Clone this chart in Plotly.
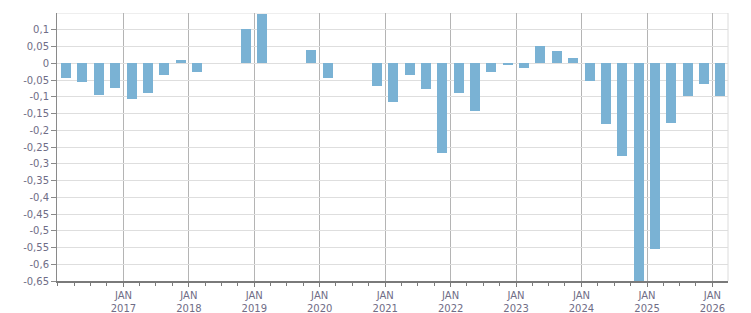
import plotly.graph_objects as go

quarters = [
    "2016-01-01", "2016-04-01", "2016-07-01", "2016-10-01",
    "2017-01-01", "2017-04-01", "2017-07-01", "2017-10-01",
    "2018-01-01", "2018-04-01", "2018-07-01", "2018-10-01",
    "2019-01-01", "2019-04-01", "2019-07-01", "2019-10-01",
    "2020-01-01", "2020-04-01", "2020-07-01", "2020-10-01",
    "2021-01-01", "2021-04-01", "2021-07-01", "2021-10-01",
    "2022-01-01", "2022-04-01", "2022-07-01", "2022-10-01",
    "2023-01-01", "2023-04-01", "2023-07-01", "2023-10-01",
    "2024-01-01", "2024-04-01", "2024-07-01", "2024-10-01",
    "2025-01-01", "2025-04-01", "2025-07-01", "2025-10-01",
    "2026-01-01",
]
values = [
    -0.044, -0.057, -0.096, -0.075,
    -0.108, -0.090, -0.036, 0.009,
    -0.027, None, None, 0.102,
    0.147, None, None, 0.039,
    -0.045, None, None, -0.069,
    -0.117, -0.036, -0.078, -0.269,
    -0.090, -0.144, -0.027, -0.006,
    -0.015, 0.051, 0.036, 0.015,
    -0.054, -0.180, -0.278, -0.68,
    -0.554, -0.177, -0.099, -0.063,
    -0.099,
]

year_ticks = ["2017-01-01", "2018-01-01", "2019-01-01", "2020-01-01", "2021-01-01",
              "2022-01-01", "2023-01-01", "2024-01-01", "2025-01-01", "2026-01-01"]
year_labels = ["JAN<br>2017", "JAN<br>2018", "JAN<br>2019", "JAN<br>2020", "JAN<br>2021",
               "JAN<br>2022", "JAN<br>2023", "JAN<br>2024", "JAN<br>2025", "JAN<br>2026"]

y_tickvals = [0.1, 0.05, 0, -0.05, -0.1, -0.15, -0.2, -0.25, -0.3, -0.35, -0.4,
              -0.45, -0.5, -0.55, -0.6, -0.65]
y_ticktext = ["0,1", "0,05", "0", "-0,05", "-0,1", "-0,15", "-0,2", "-0,25", "-0,3",
              "-0,35", "-0,4", "-0,45", "-0,5", "-0,55", "-0,6", "-0,65"]

text_color = "#6f6d86"
font = dict(family="DejaVu Sans", size=10, color=text_color)

fig = go.Figure()
fig.add_trace(go.Bar(
    x=quarters, y=values,
    xperiod="M3", xperiodalignment="middle",
    width=56 * 86400000,
    marker=dict(color="#7ab2d4", line=dict(width=0)),
    hoverinfo="x+y",
))

fig.update_layout(
    width=751, height=313,
    margin=dict(l=57, r=23, t=13, b=32),
    paper_bgcolor="white", plot_bgcolor="white",
    showlegend=False,
    font=font,
    bargap=0,
    shapes=[
        dict(type="line", xref="paper", yref="y", x0=0, x1=1, y0=0.15, y1=0.15,
             line=dict(color="#dedede", width=1), layer="below"),
        dict(type="line", xref="paper", yref="paper", x0=1, x1=1, y0=0, y1=1,
             line=dict(color="#dcdcdc", width=1), layer="below"),
    ],
)

fig.update_xaxes(
    type="date",
    range=["2015-12-27", "2026-03-29"],
    tickmode="array", tickvals=year_ticks, ticktext=year_labels,
    showgrid=True, gridcolor="#b4b4b4", gridwidth=1,
    showline=True, linecolor="#7a7a7a", linewidth=2,
    ticks="outside", ticklen=4, tickcolor="#7a7a7a", tickwidth=1,
    minor=dict(dtick="M3", tick0="2016-01-01", ticks="outside", ticklen=3,
               tickcolor="#7a7a7a", showgrid=False),
    tickfont=font,
    zeroline=False,
    automargin=False,
    fixedrange=True,
)

fig.update_yaxes(
    range=[-0.65, 0.15],
    tickmode="array", tickvals=y_tickvals, ticktext=y_ticktext,
    showgrid=True, gridcolor="#dedede", gridwidth=1,
    showline=True, linecolor="#8a8a8a", linewidth=1,
    ticks="outside", ticklen=5, tickcolor="#8a8a8a",
    zeroline=False,
    tickfont=font,
    automargin=False,
    fixedrange=True,
)

fig.write_html("out.html")
